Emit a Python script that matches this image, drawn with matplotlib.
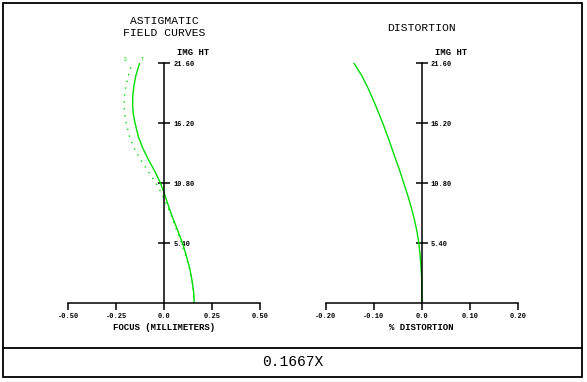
import matplotlib
matplotlib.use("Agg")
import matplotlib.pyplot as plt
from matplotlib.patches import Rectangle
from matplotlib.lines import Line2D

# image height (mm) and field curves
img_ht = [0.0, 1.0, 2.0, 3.1, 4.2, 5.4, 6.6, 7.9, 8.9, 9.9, 10.9, 11.9, 13.0,
	14.0, 15.0, 16.2, 17.0, 17.8, 18.7, 19.6, 20.5, 21.6]
tang = [0.156, 0.153, 0.145, 0.133, 0.116, 0.095, 0.069, 0.039, 0.019, 0.0, -0.022, -0.050, -0.085,
	-0.113, -0.135, -0.152, -0.161, -0.165, -0.164, -0.158, -0.148, -0.129]
sag = [0.156, 0.152, 0.144, 0.131, 0.113, 0.090, 0.064, 0.036, 0.012, -0.014, -0.046, -0.085, -0.126,
	-0.158, -0.181, -0.198, -0.206, -0.209, -0.207, -0.200, -0.187, -0.169]

dist_ht = [0.0, 1.0, 2.25, 3.3, 4.4, 5.4, 6.5, 7.5, 8.5, 9.7, 10.9, 12.1, 13.3,
	14.8, 16.2, 17.8, 19.3, 20.5, 21.6]
dist = [0.0, 0.0, 0.0, -0.0015, -0.0035, -0.006, -0.010, -0.015, -0.021, -0.029, -0.038, -0.047, -0.057,
	-0.069, -0.081, -0.096, -0.111, -0.125, -0.141]

yticks = [5.4, 10.8, 16.2, 21.6]
ytick_labels = ["5.40", "10.80", "16.20", "21.60"]
focus_ticks = [-0.5, -0.25, 0.0, 0.25, 0.5]
focus_labels = ["-0.50", "-0.25", "0.0", "0.25", "0.50"]
dist_ticks = [-0.2, -0.1, 0.0, 0.1, 0.2]
dist_labels = ["-0.20", "-0.10", "0.0", "0.10", "0.20"]
magnification = "0.1667X"

mono = "Liberation Mono"
green = "#00dd00"
W, H = 587, 382

fig = plt.figure(figsize=(W / 100, H / 100), dpi=100)

def setup(ax, xt, xl, title, title_dy):
	ax.set_ylim(0, 21.6)
	ax.spines['top'].set_visible(False)
	ax.spines['left'].set_visible(False)
	ax.spines['right'].set_position(('data', 0))
	ax.spines['right'].set_linewidth(1.1)
	ax.spines['bottom'].set_linewidth(1.1)
	ax.yaxis.tick_right()
	ax.set_yticks(yticks)
	ax.set_yticklabels(ytick_labels, fontfamily=mono, fontweight='bold', fontsize=5)
	ax.tick_params(axis='y', direction='inout', length=9, width=1.1, pad=2)
	ax.set_xticks(xt)
	ax.set_xticklabels(xl, fontfamily=mono, fontweight='bold', fontsize=5)
	ax.tick_params(axis='x', direction='out', length=5, width=1.1, pad=2)
	ax.patch.set_visible(False)
	ax.annotate("IMG HT", xy=(0, 21.6), xytext=(13, 11), textcoords='offset pixels',
		ha='left', va='center', fontfamily=mono, fontweight='bold', fontsize=6.4)
	ax.annotate(title, xy=(0, 21.6), xytext=(0, title_dy), textcoords='offset pixels',
		ha='center', va='center', fontfamily=mono, fontsize=8.2, linespacing=1.2)

# left: astigmatic field curves
ax1 = fig.add_axes([68.3 / W, 1 - 303.3 / H, 192 / W, 240 / H])
ax1.set_xlim(-0.5, 0.5)
ax1.plot(tang, img_ht, color=green, lw=1.0)
ax1.plot(sag, img_ht, color=green, lw=1.0, linestyle=(0, (1, 4)))
ax1.text(sag[-1] - 0.035, 21.75, "S", color=green, fontsize=3.5, fontfamily=mono, ha='center', va='bottom')
ax1.text(tang[-1] + 0.012, 21.75, "T", color=green, fontsize=3.5, fontfamily=mono, ha='center', va='bottom')
setup(ax1, focus_ticks, focus_labels, "ASTIGMATIC\nFIELD CURVES", 36)
ax1.set_xlabel("FOCUS (MILLIMETERS)", fontfamily=mono, fontweight='bold', fontsize=6.5, labelpad=2)

# right: distortion
ax2 = fig.add_axes([325.7 / W, 1 - 303.3 / H, 192 / W, 240 / H])
ax2.set_xlim(-0.2, 0.2)
ax2.plot(dist, dist_ht, color=green, lw=1.0)
setup(ax2, dist_ticks, dist_labels, "DISTORTION", 35)
ax2.set_xlabel("% DISTORTION", fontfamily=mono, fontweight='bold', fontsize=6.5, labelpad=2)

# frame and magnification box
fig.add_artist(Rectangle((3 / W, 1 - 377 / H), 579 / W, 374 / H, transform=fig.transFigure,
	fill=False, edgecolor='black', lw=1.3))
fig.add_artist(Line2D([3 / W, 582 / W], [1 - 348 / H, 1 - 348 / H], transform=fig.transFigure,
	color='black', lw=1.3))
fig.text(293 / W, 1 - 362 / H, magnification, ha='center', va='center', fontfamily=mono, fontsize=10.5)

fig.savefig("out.png", dpi=100)
